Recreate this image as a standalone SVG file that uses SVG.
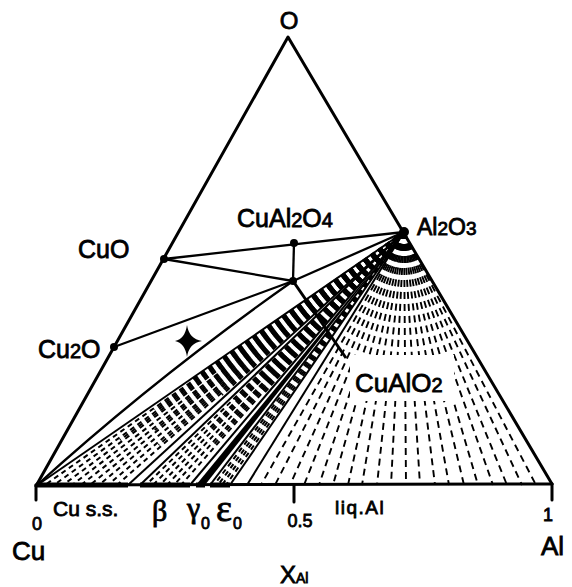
<svg xmlns="http://www.w3.org/2000/svg" width="572" height="587" viewBox="0 0 572 587">
<style>
text{font-family:"Liberation Sans",Arial,sans-serif;fill:#000;stroke:#000;stroke-width:0.8}
.sf{font-family:"Liberation Serif","Times New Roman",serif}
.edge{stroke:#000;stroke-width:3;fill:none;stroke-linecap:round;stroke-linejoin:round}
.tie{stroke:#000;stroke-width:2.3;fill:none}
.bd{stroke:#000;stroke-width:2;fill:none}
.h1{stroke:#000;stroke-width:2;stroke-dasharray:5 4;fill:none}
.h2{stroke:#000;stroke-width:1.9;stroke-dasharray:7 5;fill:none}
.bar{stroke:#000;stroke-width:5;fill:none}
.dot{fill:#000}
</style>
<rect width="572" height="587" fill="#fff"/>

<g id="fan">
  <g class="h1">
    <line x1="404" y1="232" x2="45" y2="485"/><line x1="404" y1="232" x2="54" y2="485"/>
    <line x1="404" y1="232" x2="63" y2="485"/><line x1="404" y1="232" x2="72" y2="485"/>
    <line x1="404" y1="232" x2="81" y2="485"/><line x1="404" y1="232" x2="90" y2="485"/>
    <line x1="404" y1="232" x2="99" y2="485"/><line x1="404" y1="232" x2="108" y2="485"/>
    <line x1="404" y1="232" x2="117" y2="485"/>
    <line x1="404" y1="232" x2="191.4" y2="380"/><line x1="404" y1="232" x2="154.6" y2="410"/>
    <line x1="404" y1="232" x2="120" y2="440"/><line x1="404" y1="232" x2="220.5" y2="370"/>
    <line x1="404" y1="232" x2="186.5" y2="400"/><line x1="404" y1="232" x2="154.7" y2="430"/>
    <line x1="404" y1="232" x2="216.8" y2="385"/><line x1="404" y1="232" x2="186.6" y2="415"/>
    <line x1="404" y1="232" x2="158.6" y2="445"/><line x1="404" y1="232" x2="222" y2="395"/>
    <line x1="404" y1="232" x2="146" y2="485"/><line x1="404" y1="232" x2="153" y2="485"/>
    <line x1="404" y1="232" x2="160" y2="485"/><line x1="404" y1="232" x2="167" y2="485"/>
    <line x1="404" y1="232" x2="174" y2="485"/><line x1="404" y1="232" x2="181" y2="485"/>
    <line x1="404" y1="232" x2="235" y2="400"/><line x1="404" y1="232" x2="210.3" y2="430"/>
    <line x1="404" y1="232" x2="263.3" y2="380"/><line x1="404" y1="232" x2="235.1" y2="415"/>
    <line x1="404" y1="232" x2="213.3" y2="445"/><line x1="404" y1="232" x2="262.6" y2="395"/>
    <line x1="404" y1="232" x2="214" y2="485"/><line x1="404" y1="232" x2="218" y2="485"/>
    <line x1="404" y1="232" x2="222" y2="485"/><line x1="404" y1="232" x2="226" y2="485"/>
  </g>
  <g class="h2">
    <line x1="404" y1="232" x2="261" y2="485"/><line x1="404" y1="232" x2="275" y2="485"/>
    <line x1="404" y1="232" x2="290" y2="485"/><line x1="404" y1="232" x2="304" y2="485"/>
    <line x1="404" y1="232" x2="319" y2="485"/><line x1="404" y1="232" x2="333" y2="485"/>
    <line x1="404" y1="232" x2="348" y2="485"/><line x1="404" y1="232" x2="362" y2="485"/>
    <line x1="404" y1="232" x2="377" y2="485"/><line x1="404" y1="232" x2="391" y2="485"/>
    <line x1="404" y1="232" x2="406" y2="485"/><line x1="404" y1="232" x2="420" y2="485"/>
    <line x1="404" y1="232" x2="435" y2="485"/><line x1="404" y1="232" x2="449" y2="485"/>
    <line x1="404" y1="232" x2="464" y2="485"/><line x1="404" y1="232" x2="478" y2="485"/>
    <line x1="404" y1="232" x2="493" y2="485"/><line x1="404" y1="232" x2="507" y2="485"/>
    <line x1="404" y1="232" x2="522" y2="485"/><line x1="404" y1="232" x2="536" y2="485"/>
  </g>
  <rect x="350" y="355" width="104" height="46" fill="#fff"/>
  <g class="bd">
    <line x1="404" y1="232" x2="36" y2="486"/>
    <line x1="404" y1="232" x2="128" y2="485"/>
    <line x1="404" y1="232" x2="140" y2="485"/>
    <line x1="404" y1="232" x2="190" y2="485"/>
    <line x1="404" y1="232" x2="210" y2="485"/>
    <line x1="404" y1="232" x2="230" y2="485"/>
    <line x1="404" y1="232" x2="247" y2="485"/>
  </g>
  <polygon points="196,485 205,485 404,232" fill="#000"/>
</g>

<g id="connectors">
  <polyline class="edge" points="36,486 288,37 552,484"/>
  <line class="edge" x1="36" y1="485" x2="552" y2="484"/>
  <line class="tie" x1="164" y1="259" x2="404" y2="232"/>
  <line class="tie" x1="164" y1="259" x2="293" y2="281"/>
  <line class="tie" x1="294" y1="243" x2="293" y2="281"/>
  <line class="tie" x1="293" y1="281" x2="404" y2="232"/>
  <line class="tie" x1="114" y1="347" x2="293" y2="281"/>
  <path class="tie" d="M36,486 Q155,378 293,281"/>
  <line class="tie" x1="293" y1="281" x2="346" y2="358" style="stroke-width:3"/>
  <line class="bar" x1="36" y1="485" x2="128" y2="485"/>
  <line class="bar" x1="140" y1="485" x2="190" y2="485"/>
  <line class="bar" x1="196" y1="485" x2="205" y2="485"/>
  <line class="bar" x1="210" y1="485" x2="230" y2="485"/>
  <line class="edge" x1="36" y1="485" x2="36" y2="500"/>
  <line class="edge" x1="294" y1="485" x2="294" y2="502"/>
  <line class="edge" x1="552" y1="484" x2="552" y2="500"/>
</g>

<g id="node-O"><text x="289" y="29" font-size="24" text-anchor="middle">O</text></g>
<g id="node-CuO"><circle class="dot" cx="164" cy="259" r="4"/><text x="78" y="258" font-size="25">CuO</text></g>
<g id="node-Cu2O"><circle class="dot" cx="114" cy="347" r="4"/><text x="38" y="358" font-size="25">Cu<tspan font-size="20">2</tspan>O</text></g>
<g id="node-CuAl2O4"><circle class="dot" cx="294" cy="243" r="4"/><text x="237" y="227" font-size="25">CuAl<tspan font-size="20">2</tspan>O<tspan font-size="20">4</tspan></text></g>
<g id="node-junction"><circle class="dot" cx="293" cy="281" r="4"/></g>
<g id="node-Al2O3"><circle class="dot" cx="404" cy="232" r="5"/><text x="417" y="235" font-size="23">Al<tspan font-size="19">2</tspan>O<tspan font-size="19">3</tspan></text></g>
<g id="node-CuAlO2"><text x="355" y="392" font-size="26">CuAlO<tspan font-size="20">2</tspan></text></g>
<g id="star"><path d="M187,325 Q189,339 202,341 Q189,343 187,357 Q185,343 175,341 Q185,339 187,325 Z" fill="#000"/></g>

<g id="axis-labels">
  <text x="53" y="516" font-size="21">Cu s.s.</text>
  <text class="sf" x="152" y="521" font-size="30">β</text>
  <text class="sf" x="187" y="518" font-size="30">γ</text><text x="201" y="529" font-size="16">0</text>
  <text class="sf" x="216" y="521" font-size="38">ε</text><text x="233" y="529" font-size="16">0</text>
  <text x="335" y="514" font-size="19" letter-spacing="1.5">liq.Al</text>
  <text x="37" y="530" font-size="18" text-anchor="middle">0</text>
  <text x="300" y="527" font-size="18" text-anchor="middle">0.5</text>
  <text x="548" y="521" font-size="18" text-anchor="middle">1</text>
</g>
<g id="node-Cu"><text x="12" y="560" font-size="26">Cu</text></g>
<g id="node-Al"><text x="541" y="555" font-size="26">Al</text></g>
<g id="axis-title"><text x="280" y="583" font-size="24">X<tspan font-size="14">Al</tspan></text></g>
</svg>
